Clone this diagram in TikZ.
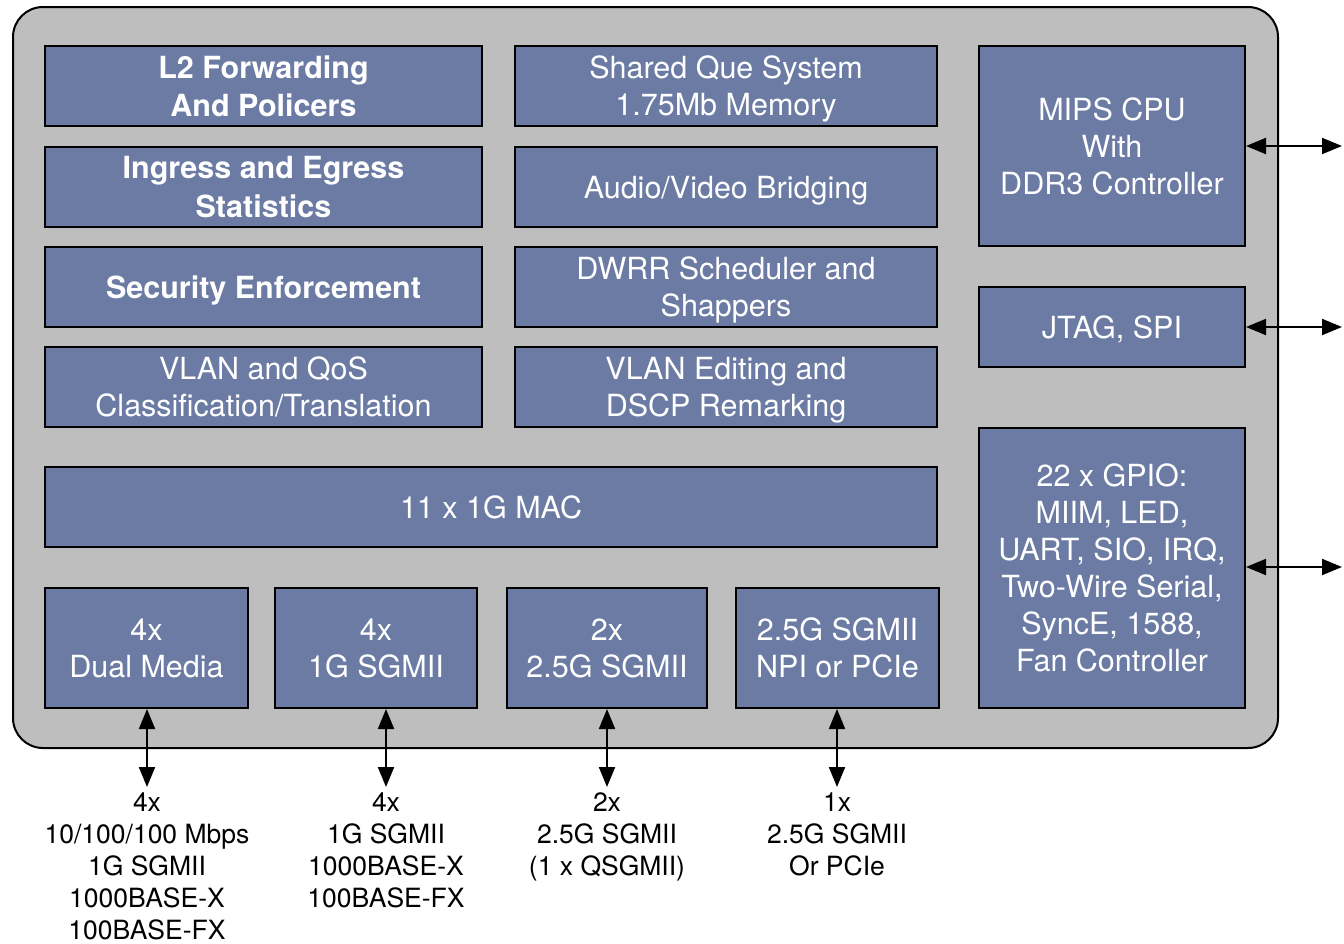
\documentclass[tikz,border=0pt]{standalone}
\usepackage{fontspec}
\setmainfont{TeX Gyre Heros}
\usetikzlibrary{arrows.meta}
\definecolor{chipgray}{RGB}{190,190,190}
\definecolor{blkblue}{RGB}{107,123,164}
\begin{document}
\begin{tikzpicture}[x=1pt,y=-1pt,
  blk/.style={draw=black, line width=2pt, fill=blkblue, text=white, align=center,
    inner sep=0pt, font=\fontsize{30.5}{37}\selectfont, text depth=-4pt},
  bblk/.style={blk, font=\fontsize{30.5}{38.5}\selectfont\bfseries},
  one/.style={text height=22pt, text depth=0pt},
  lbl/.style={align=center, inner sep=0pt, anchor=north, font=\fontsize{26.5}{32}\selectfont},
  link/.style={line width=2pt, {Triangle[length=20pt,width=16pt]}-{Triangle[length=20pt,width=16pt]}}]
\useasboundingbox (0,0) rectangle (1344,943);
\draw[line width=2pt, fill=chipgray, rounded corners=30pt] (13,7) rectangle (1278,748);
% left column
\node[bblk, minimum width=437pt, minimum height=80pt] (l2) at (263.5,86) {L2 Forwarding\\And Policers};
\node[bblk, minimum width=437pt, minimum height=80pt] (ing) at (263.5,187) {Ingress and Egress\\Statistics};
\node[bblk, one, minimum width=437pt, minimum height=80pt] (sec) at (263.5,287) {Security Enforcement};
\node[blk, minimum width=437pt, minimum height=80pt] (vqos) at (263.5,387) {VLAN and QoS\\Classification/Translation};
% middle column
\node[blk, minimum width=422pt, minimum height=80pt] (sq) at (726,86) {Shared Que System\\1.75Mb Memory};
\node[blk, one, minimum width=422pt, minimum height=80pt] (av) at (726,187) {Audio/Video Bridging};
\node[blk, minimum width=422pt, minimum height=80pt] (dwrr) at (726,287) {DWRR Scheduler and\\Shappers};
\node[blk, minimum width=422pt, minimum height=80pt] (vedit) at (726,387) {VLAN Editing and\\DSCP Remarking};
% MAC
\node[blk, one, minimum width=892pt, minimum height=80pt] (mac) at (491,507) {11 x 1G MAC};
% bottom boxes
\node[blk, minimum width=203pt, minimum height=120pt] (dm) at (146.5,648) {4x\\Dual Media};
\node[blk, minimum width=202pt, minimum height=120pt] (sg1) at (376,648) {4x\\1G SGMII};
\node[blk, minimum width=200pt, minimum height=120pt] (sg2) at (607,648) {2x\\2.5G SGMII};
\node[blk, minimum width=203pt, minimum height=120pt] (npi) at (837.5,648) {2.5G SGMII\\NPI or PCIe};
% right column
\node[blk, minimum width=266pt, minimum height=200pt] (cpu) at (1112,146) {MIPS CPU\\With\\DDR3 Controller};
\node[blk, one, minimum width=266pt, minimum height=80pt] (jtag) at (1112,327) {JTAG, SPI};
\node[blk, minimum width=266pt, minimum height=280pt] (gpio) at (1112,568) {22 x GPIO:\\MIIM, LED,\\UART, SIO, IRQ,\\Two-Wire Serial,\\SyncE, 1588,\\Fan Controller};
% right arrows
\coordinate (rc) at (1342,146);
\coordinate (rj) at (1342,327);
\coordinate (rg) at (1342,567);
\draw[link] (cpu.east) -- (rc);
\draw[link] (jtag.east) -- (rj);
\draw[link] (gpio.east |- rg) -- (rg);
% bottom labels
\node[lbl] (t1) at (147,792) {4x\\10/100/100 Mbps\\1G SGMII\\1000BASE-X\\100BASE-FX};
\node[lbl] (t2) at (386,792) {4x\\1G SGMII\\1000BASE-X\\100BASE-FX};
\node[lbl] (t3) at (607,792) {2x\\2.5G SGMII\\(1 x QSGMII)};
\node[lbl] (t4) at (837,792) {1x\\2.5G SGMII\\Or PCIe};
\draw[link, shorten >=5pt] (dm.south -| t1.north) -- (t1.north);
\draw[link, shorten >=5pt] (sg1.south -| t2.north) -- (t2.north);
\draw[link, shorten >=5pt] (sg2.south) -- (t3.north);
\draw[link, shorten >=5pt] (npi.south -| t4.north) -- (t4.north);
\end{tikzpicture}
\end{document}
